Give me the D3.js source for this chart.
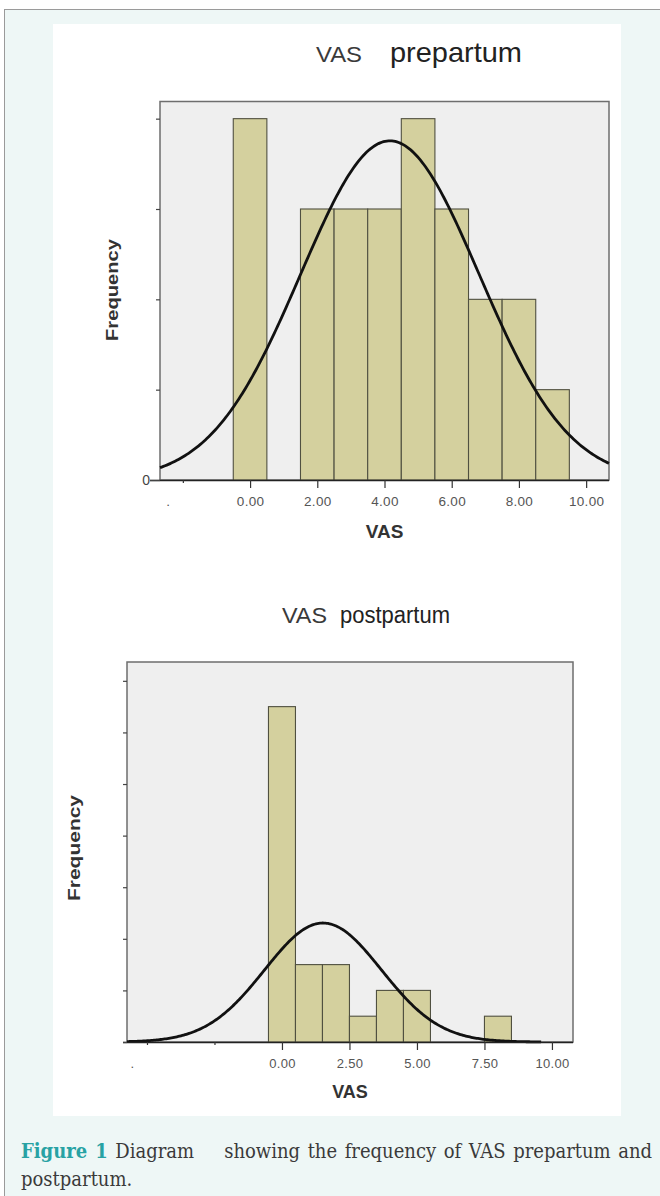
<!DOCTYPE html>
<html>
<head>
<meta charset="utf-8">
<script src="https://cdn.jsdelivr.net/npm/d3@7"></script>
<style>
    body { margin: 0; background: #fff; }
    #page { position: relative; width: 660px; height: 1196px; overflow: hidden; }
    #page svg { position: absolute; left: 0; top: 0; }
    #caption {
        position: absolute; left: 21px; top: 1137px; width: 631px;
        font-family: "DejaVu Serif Condensed", "DejaVu Serif", "Liberation Serif", serif;
        font-size: 20px; line-height: 28px; color: #3a3a3a;
    }
    #caption .l1 { text-align: justify; text-align-last: justify; white-space: nowrap; }
    #caption b { color: #27a2a4; }
</style>
</head>
<body>
<div id="page"></div>
<script>
// VAS histograms (SPSS style) with fitted normal curves.

// prepartum
const prepBins = [0, 1, 2, 3, 4, 5, 6, 7, 8, 9];
const prepCounts = [4, 0, 3, 3, 3, 4, 3, 2, 2, 1];
const prepXTicks = [-2, 0, 2, 4, 6, 8, 10];
const prepXLabels = ['.', '0.00', '2.00', '4.00', '6.00', '8.00', '10.00'];
const prepYTicks = [0, 1, 2, 3, 4];

// postpartum
const postBins = [0, 1, 2, 3, 4, 5, 6, 7, 8];
const postCounts = [13, 3, 3, 1, 2, 2, 0, 0, 1];
const postXTicks = [-5, -2.5, 0, 2.5, 5, 7.5, 10];
const postXLabels = ['.', '', '0.00', '2.50', '5.00', '7.50', '10.00'];
const postYTicks = [0, 2, 4, 6, 8, 10, 12, 14];

const W = 660, H = 1196;
const sans = '"Liberation Sans", Arial, sans-serif';

const svg = d3.select('#page').append('svg').attr('width', W).attr('height', H);

// outer mint frame + white panel
svg.append('rect').attr('x', 4.5).attr('y', 9.5).attr('width', W).attr('height', H)
    .attr('fill', '#eef7f6').attr('stroke', '#9a9a9a').attr('stroke-width', 1);
svg.append('rect').attr('x', 53).attr('y', 24).attr('width', 568).attr('height', 1092)
    .attr('fill', '#fff');

function drawHistogram(opt) {
    const g = svg.append('g');
    const x = d3.scaleLinear().domain(opt.xDomain).range([opt.left, opt.right]);
    const y = d3.scaleLinear().domain(opt.yDomain).range([opt.bottom, opt.top]);

    g.append('rect')
        .attr('x', opt.left).attr('y', opt.top)
        .attr('width', opt.right - opt.left).attr('height', opt.bottom - opt.top)
        .attr('fill', '#efefef').attr('stroke', '#6e6e6e').attr('stroke-width', 1.5);

    const rows = opt.bins.map((b, i) => ({ v: b, c: opt.counts[i] })).filter(d => d.c > 0);
    g.selectAll('rect.bar').data(rows).join('rect')
        .attr('class', 'bar')
        .attr('x', d => x(d.v - 0.5))
        .attr('width', d => x(d.v + 0.5) - x(d.v - 0.5))
        .attr('y', d => y(d.c))
        .attr('height', d => y(0) - y(d.c))
        .attr('fill', '#d4d09e').attr('stroke', '#505040').attr('stroke-width', 1.1);

    // fitted normal curve from the bins' mean / sd
    const n = d3.sum(opt.counts);
    const mean = d3.sum(opt.bins, (b, i) => b * opt.counts[i]) / n;
    const sd = Math.sqrt(d3.sum(opt.bins, (b, i) => opt.counts[i] * (b - mean) ** 2) / (n - 1));
    const dens = v => n / (sd * Math.sqrt(2 * Math.PI)) * Math.exp(-0.5 * ((v - mean) / sd) ** 2);
    const xs = d3.range(opt.curveFrom, opt.curveTo, 0.05).concat([opt.curveTo]);
    g.append('path')
        .attr('d', d3.line().x(v => x(v)).y(v => y(dens(v)))(xs))
        .attr('fill', 'none').attr('stroke', '#111').attr('stroke-width', 2.8);

    // x axis
    const xAxis = g.append('g')
        .attr('transform', `translate(0,${opt.bottom})`)
        .call(d3.axisBottom(x).tickValues(opt.xTicks)
            .tickFormat((d, i) => opt.xLabels[i]).tickSize(8).tickSizeOuter(0));
    xAxis.select('.domain').attr('stroke', '#222').attr('stroke-width', 1.6)
        .attr('d', `M${opt.axisStart},0.5H${opt.right}`);
    xAxis.selectAll('.tick line').attr('stroke', '#333').attr('stroke-width', 1.2)
        .attr('y2', (d, i) => (opt.xLabels[i] === '.' || opt.xLabels[i] === '') ? 3 : 8);
    xAxis.selectAll('.tick text')
        .attr('font-family', sans).attr('font-size', opt.tickFont).attr('fill', '#555')
        .attr('letter-spacing', 0.3)
        .attr('y', opt.tickLabelY).attr('dy', 0)
        .attr('dx', (d, i) => opt.xLabels[i] === '.' ? -15 : 0);

    // y axis
    const yAxis = g.append('g')
        .attr('transform', `translate(${opt.left},0)`)
        .call(d3.axisLeft(y).tickValues(opt.yTicks)
            .tickFormat(d => (d === 0 && opt.zeroLabel) ? '0' : '').tickSize(4).tickSizeOuter(0));
    yAxis.select('.domain').remove();
    yAxis.selectAll('.tick line').attr('stroke', '#444').attr('stroke-width', 1.2)
        .attr('x2', d => (d === 0 && opt.zeroLabel) ? -10 : -4);
    yAxis.selectAll('.tick text')
        .attr('font-family', sans).attr('font-size', 14).attr('fill', '#444').attr('x', -10);

    // axis titles
    g.append('text')
        .attr('x', (opt.left + opt.right) / 2).attr('y', opt.xTitleY)
        .attr('text-anchor', 'middle').attr('font-family', sans).attr('font-weight', 'bold')
        .attr('font-size', opt.xTitleSize).attr('fill', '#333').text('VAS');
    g.append('text')
        .attr('transform', `translate(${opt.yTitleX},${opt.yTitleY}) rotate(-90)`)
        .attr('text-anchor', 'middle').attr('font-family', sans).attr('font-weight', 'bold')
        .attr('font-size', opt.yTitleSize).attr('fill', '#333')
        .attr('textLength', opt.yTitleLen).attr('lengthAdjust', 'spacingAndGlyphs')
        .text('Frequency');

    // chart title
    g.append('text')
        .attr('x', opt.title1X).attr('y', opt.titleY)
        .attr('font-family', sans).attr('font-size', opt.title1Size).attr('fill', '#3a3a3a')
        .attr('textLength', opt.title1Len).attr('lengthAdjust', 'spacingAndGlyphs')
        .text('VAS');
    g.append('text')
        .attr('x', opt.title2X).attr('y', opt.titleY)
        .attr('font-family', sans).attr('font-size', opt.title2Size).attr('fill', '#222')
        .attr('textLength', opt.title2Len).attr('lengthAdjust', 'spacingAndGlyphs')
        .text(opt.title2);
}

drawHistogram({
    bins: prepBins, counts: prepCounts,
    xTicks: prepXTicks, xLabels: prepXLabels, yTicks: prepYTicks,
    xDomain: [-2.68, 10.68], yDomain: [0, 4.19],
    left: 160, right: 609, top: 101.5, bottom: 480,
    axisStart: 150, zeroLabel: true,
    curveFrom: -2.68, curveTo: 10.68,
    tickFont: 13.5, tickLabelY: 26,
    xTitleY: 538, xTitleSize: 19,
    yTitleX: 118, yTitleY: 290, yTitleSize: 17, yTitleLen: 102,
    titleY: 62, title1X: 316, title1Size: 22, title1Len: 46,
    title2X: 390, title2Size: 28, title2Len: 132, title2: 'prepartum'
});

drawHistogram({
    bins: postBins, counts: postCounts,
    xTicks: postXTicks, xLabels: postXLabels, yTicks: postYTicks,
    xDomain: [-5.74, 10.78], yDomain: [0, 14.73],
    left: 127, right: 573, top: 662, bottom: 1042,
    axisStart: 123, zeroLabel: false,
    curveFrom: -5.74, curveTo: 9.6,
    tickFont: 13, tickLabelY: 26,
    xTitleY: 1098, xTitleSize: 18,
    yTitleX: 80, yTitleY: 848, yTitleSize: 16, yTitleLen: 106,
    titleY: 623, title1X: 282, title1Size: 22, title1Len: 45,
    title2X: 340, title2Size: 23, title2Len: 110, title2: 'postpartum'
});

// caption
const cap = d3.select('#page').append('div').attr('id', 'caption');
cap.append('div').attr('class', 'l1')
    .html('<b>Figure 1</b> Diagram&nbsp;&nbsp;&nbsp; showing the frequency of VAS prepartum and');
cap.append('div').text('postpartum.');
</script>
</body>
</html>
